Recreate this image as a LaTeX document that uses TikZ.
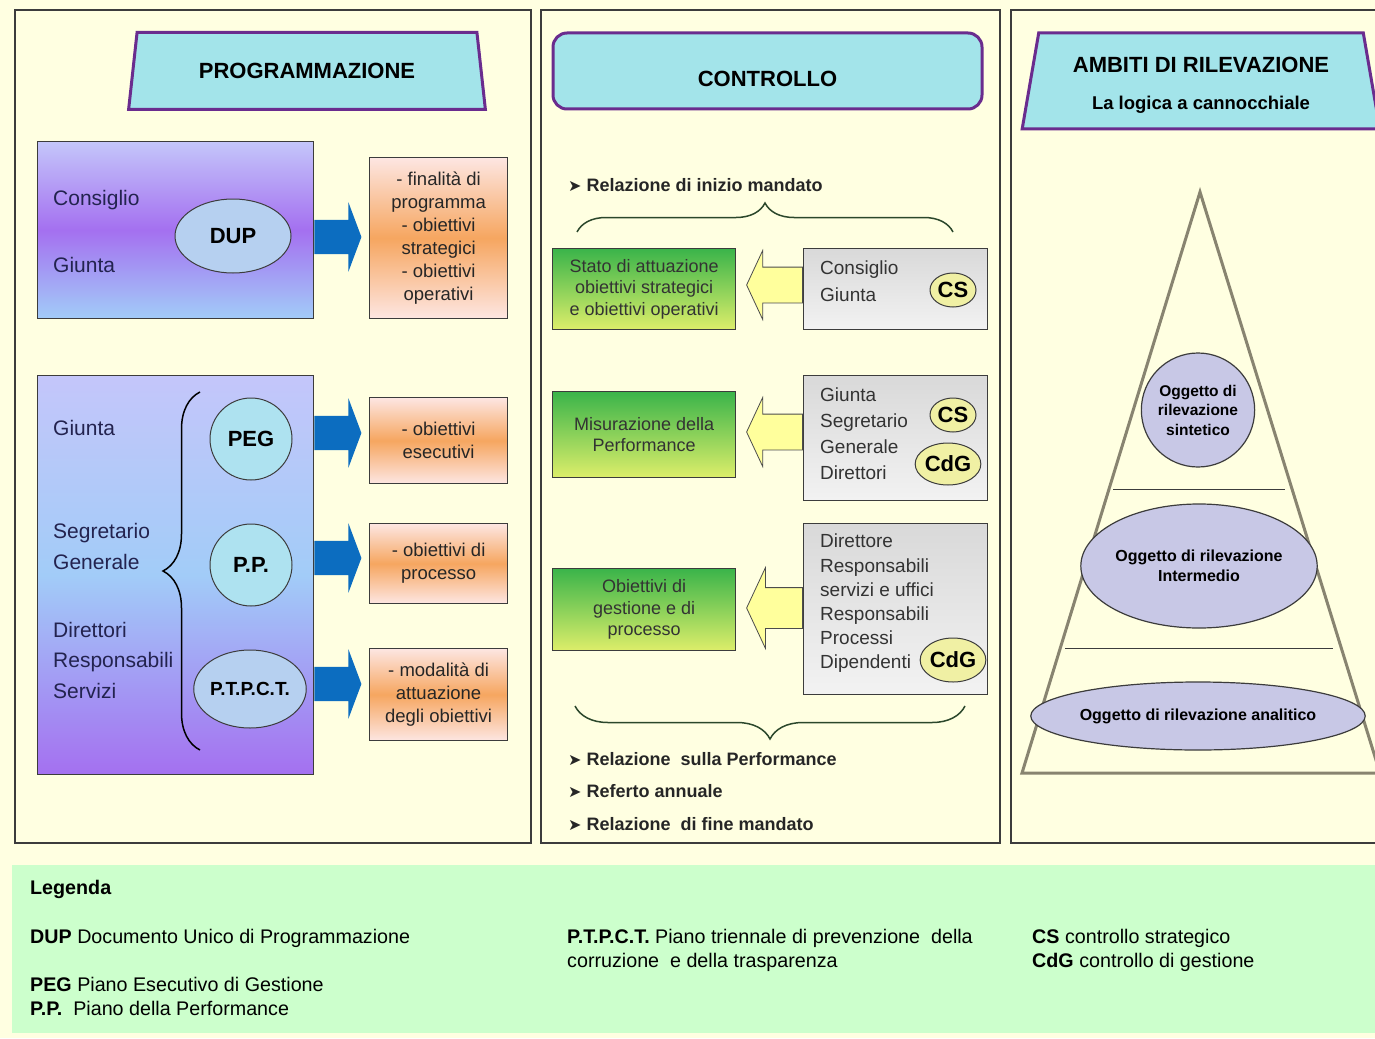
\documentclass[tikz,border=0pt]{standalone}
\usepackage{fontspec}
\setmainfont{Liberation Sans}
\newfontfamily\symfont{DejaVu Sans}
\usetikzlibrary{positioning,shapes.geometric,shapes.arrows,decorations.pathreplacing}

\definecolor{sfondo}{HTML}{FFFFE1}
\definecolor{verdeleg}{HTML}{CCFFCC}
\definecolor{ciano}{HTML}{A3E4EA}
\definecolor{viola}{HTML}{6A2C8E}
\definecolor{blufreccia}{HTML}{0C6DC0}
\definecolor{gialloch}{HTML}{FFFF9C}
\definecolor{verdegraffa}{HTML}{2B472B}
\definecolor{lilla}{HTML}{C8C8E6}
\definecolor{piramide}{HTML}{888470}
\definecolor{giallocs}{HTML}{F0F0A4}
\definecolor{bordo}{HTML}{3C3C3C}
\definecolor{rosa}{HTML}{FDE6E2}
\definecolor{arancio}{HTML}{F6A660}
\definecolor{blunotte}{HTML}{23234F}
\definecolor{lillachiaro}{HTML}{C4C6FA}
\definecolor{porpora}{HTML}{A470F0}
\definecolor{azzurro}{HTML}{A2CCF8}
\definecolor{verdescuro}{HTML}{3AB44A}
\definecolor{verdegiallo}{HTML}{DDEE6A}
\definecolor{celeste}{HTML}{B6D0F0}
\definecolor{acqua}{HTML}{AEE2F0}

\newcommand{\fs}[2]{\fontsize{#1}{#2}\selectfont}
\newcommand{\punto}{{\symfont\fs{16}{16}➤}\hspace{5pt}}

\begin{document}
\begin{tikzpicture}[x=1pt,y=-1pt,
  panel/.style={draw=bordo,line width=1.3pt,fill=sfondo},
  testata/.style={draw=viola,line width=3pt,fill=ciano,font=\bfseries\fs{22}{26},align=center},
  blocco/.style={draw=bordo,line width=1.2pt,minimum width=276,anchor=north west},
  nome/.style={anchor=base west,text=blunotte,font=\fs{21}{30.5},align=left,inner sep=0},
  sigla/.style={draw=bordo,line width=1pt,fill=#1,font=\bfseries\fs{22}{22},inner sep=0},
  esito/.style={draw=bordo,line width=1.2pt,top color=rosa,bottom color=rosa,middle color=arancio,
    minimum width=138,anchor=north west,align=center,font=\fs{18.5}{23},text=black!85},
  freccia blu/.style={single arrow,fill=blufreccia,minimum height=47,minimum width=69,
    single arrow head extend=17.5,single arrow tip angle=139,inner xsep=0,inner ysep=17,anchor=tail},
  verde/.style={draw=bordo,line width=1.2pt,top color=verdescuro,bottom color=verdegiallo,
    minimum width=183,anchor=north west,align=center,font=\fs{18}{21.5},text=black!80},
  marmo/.style={draw=bordo,line width=1.2pt,top color=gray!30,bottom color=gray!10,
    minimum width=184,anchor=north west},
  grigio/.style={anchor=north west,align=left,font=\fs{19}{#1},text=black!80,inner sep=0},
  freccia gialla/.style={single arrow,shape border rotate=180,fill=gialloch,draw=gray!60!black,line width=0.8pt,
    minimum height=56,minimum width=68,single arrow head extend=16.5,single arrow tip angle=130,
    inner xsep=0,inner ysep=17.5,anchor=tail},
  punti/.style={anchor=base west,font=\bfseries\fs{18}{20},text=black!85,inner sep=0},
  oggetto/.style={ellipse,draw=bordo,line width=1.2pt,fill=lilla,align=center,font=\bfseries\fs{15.5}{19.5},inner sep=0},
  leg/.style={anchor=base west,font=\fs{19.7}{24},align=left,inner sep=0},
  graffa/.style={decorate,line width=1.5pt}]

%sfondo e pannelli
\useasboundingbox (0,0) rectangle (1375,1038);
\fill[sfondo] (0,0) rectangle (1375,1038);
\draw[panel] (15,10) rectangle (531,843);
\draw[panel] (541,10) rectangle (1000,843);
\draw[panel] (1011,10) rectangle (1392,843);
\fill[verdeleg] (12,865) rectangle (1392,1033);

%programmazione
\node[testata,trapezium,trapezium stretches=true,minimum width=358,minimum height=77,
  trapezium left angle=76,trapezium right angle=76] (h1) at (307,71) {PROGRAMMAZIONE};

\node[blocco,minimum height=177,top color=lillachiaro,bottom color=azzurro,middle color=porpora] (b1) at (37,141) {};
\node[nome] (consiglio) at (53,205) {Consiglio};
\node[nome] (giunta1) at (53,272) {Giunta};
\node[sigla=celeste,ellipse,minimum width=116,minimum height=74] (dup) at (233,236) {DUP};

\node[blocco,minimum height=399,top color=lillachiaro,bottom color=porpora,middle color=azzurro] (b2) at (37,375) {};
\node[nome] (giunta2) at (53,435) {Giunta};
\node[nome] (segr) at (53,569) {Segretario\\Generale};
\node[nome] (dir) at (53,698) {Direttori\\Responsabili\\Servizi};
\draw[graffa,decoration={brace,amplitude=37}] (200,750) -- (200,392);
\node[sigla=acqua,circle,minimum size=82] (peg) at (251,439) {PEG};
\node[sigla=acqua,circle,minimum size=82] (pp) at (251,565) {P.P.};
\node[sigla=celeste,ellipse,minimum width=106,minimum height=78,font=\bfseries\fs{19}{19}] (ptpct) at (250,689) {P.T.P.C.T.};

%esiti
\node[esito,minimum height=161] (o1) at (369,157) {- finalità di\\programma\\- obiettivi\\strategici\\- obiettivi\\operativi};
\node[esito,minimum height=86] (o2) at (369,397) {- obiettivi\\esecutivi};
\node[esito,minimum height=80] (o3) at (369,523) {- obiettivi di\\processo};
\node[esito,minimum height=92] (o4) at (369,648) {- modalità di\\attuazione\\degli obiettivi};
\node[freccia blu] (f1) at (b1.east |- 0,237) {};
\node[freccia blu] (f2) at (b2.east |- 0,433) {};
\node[freccia blu] (f3) at (b2.east |- 0,558) {};
\node[freccia blu] (f4) at (b2.east |- 0,684) {};

%controllo
\node[testata,rounded corners=14,minimum width=429,minimum height=76,text height=32pt,text depth=0pt] (h2) at (767.5,71) {CONTROLLO};
\node[punti] (ini) at (568,191) {\punto Relazione di inizio mandato};
\draw[graffa,verdegraffa,decoration={brace,amplitude=29}] (577,232) -- (953,232);

\node[verde,minimum height=81] (v1) at (552,248) {Stato di attuazione\\obiettivi strategici\\e obiettivi operativi};
\node[verde,minimum height=86] (v2) at (552,391) {Misurazione della\\Performance};
\node[verde,minimum height=82] (v3) at (552,568) {Obiettivi di\\gestione e di\\processo};

\node[marmo,minimum height=81] (m1) at (803,248) {};
\node[grigio=27] (m1t) at (820,261) {Consiglio\\Giunta};
\node[sigla=giallocs,ellipse,minimum width=46,minimum height=34] (cs1) at (953,290) {CS};

\node[marmo,minimum height=125] (m2) at (803,375) {};
\node[grigio=25.7] (m2t) at (820,388) {Giunta\\Segretario\\Generale\\Direttori};
\node[sigla=giallocs,ellipse,minimum width=46,minimum height=34] (cs2) at (953,415) {CS};
\node[sigla=giallocs,ellipse,minimum width=57,minimum height=42] (cdg1) at (948,464) {CdG};

\node[marmo,minimum height=171] (m3) at (803,523) {};
\node[grigio=24.2] (m3t) at (820,534) {Direttore\\Responsabili\\servizi e uffici\\Responsabili\\Processi\\Dipendenti};
\node[sigla=giallocs,ellipse,minimum width=57,minimum height=44] (cdg2) at (953,660) {CdG};

\node[freccia gialla] (g1) at (m1.west |- 0,285) {};
\node[freccia gialla] (g2) at (m2.west |- 0,432) {};
\node[freccia gialla,minimum width=80,single arrow head extend=20,inner ysep=20] (g3) at (m3.west |- 0,608) {};

\draw[graffa,verdegraffa,decoration={brace,amplitude=33}] (965,706) -- (575,706);
\node[punti] (rel) at (568,765) {\punto Relazione\ \ sulla Performance};
\node[punti] (ref) at (568,797) {\punto Referto annuale};
\node[punti] (fin) at (568,830) {\punto Relazione\ \ di fine mandato};

%ambiti di rilevazione
\node[testata,trapezium,trapezium stretches=true,minimum width=358,minimum height=96,
  trapezium left angle=79.4,trapezium right angle=79.4] (h3) at (1201,81)
  {\rule{0pt}{24pt}AMBITI DI RILEVAZIONE\\[11pt]{\fs{18.5}{22}La logica a cannocchiale}};

\draw[piramide,line width=3pt] (1200,192) -- (1022,773) -- (1380,773) -- cycle;
\draw[bordo,line width=1pt] (1113,489) -- (1285,489);
\draw[bordo,line width=1pt] (1065,648) -- (1333,648);
\node[oggetto,minimum width=86,minimum height=114] (sint) at (1198,410) {Oggetto di\\rilevazione\\sintetico};
\node[oggetto,minimum width=196,minimum height=124,font=\bfseries\fs{16}{20}] (inter) at (1199,566) {Oggetto di rilevazione\\Intermedio};
\node[oggetto,minimum width=290,minimum height=68,font=\bfseries\fs{16}{20}] (anal) at (1198,716) {Oggetto di rilevazione analitico};

%legenda
\node[leg,font=\bfseries\fs{19.7}{24}] (legenda) at (30,894) {Legenda};
\node[leg] (l1) at (30,943) {\textbf{DUP} Documento Unico di Programmazione};
\node[leg] (l2) at (30,991) {\textbf{PEG} Piano Esecutivo di Gestione};
\node[leg] (l3) at (30,1015) {\textbf{P.P.}\ \ Piano della Performance};
\node[leg] (l4) at (567,967) {\textbf{P.T.P.C.T.} Piano triennale di prevenzione\ \ della\\corruzione\ \ e della trasparenza};
\node[leg] (l5) at (1032,967) {\textbf{CS} controllo strategico\\\textbf{CdG} controllo di gestione};
\end{tikzpicture}
\end{document}
